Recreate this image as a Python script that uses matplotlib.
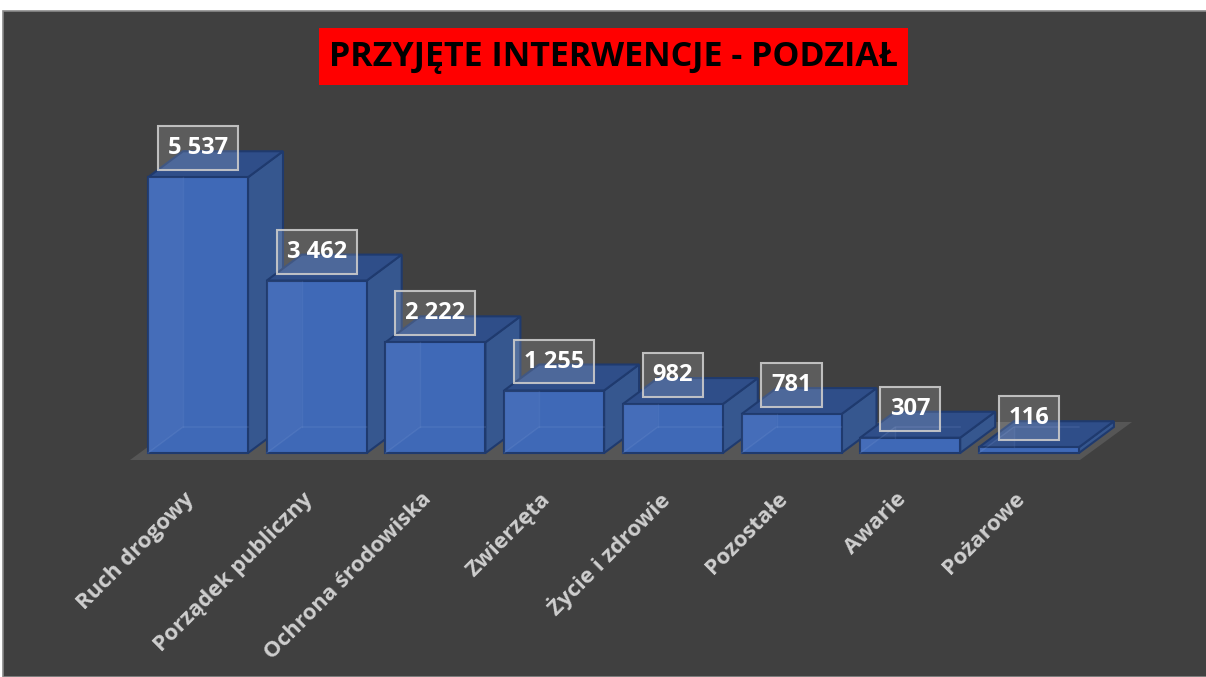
import matplotlib.pyplot as plt
from matplotlib.patches import Rectangle, Polygon

# data
categories = ['Ruch drogowy', 'Porządek publiczny', 'Ochrona środowiska', 'Zwierzęta',
              'Życie i zdrowie', 'Pozostałe', 'Awarie', 'Pożarowe']
values = [5537, 3462, 2222, 1255, 982, 781, 307, 116]
title = 'PRZYJĘTE INTERWENCJE - PODZIAŁ'

# layout (pixels of a 1206x677 canvas)
W, H = 1206, 677
X0_PX = 198          # centre of first bar
PX_PER_CAT = 118.7   # distance between bars
BASE_PX = 453        # baseline, from top
PX_PER_UNIT = 0.0498
BAR_W = 100 / PX_PER_CAT
DX = 35 / PX_PER_CAT          # depth offset of bars
DY = 26 / PX_PER_UNIT
FDX = 52 / PX_PER_CAT         # depth of the floor
FDY = 38 / PX_PER_UNIT

bg = '#404040'
front_c = '#3F69B7'
side_c = '#36578F'
top_c = '#2F4E89'
edge_c = '#1F3A6E'
font = ['Open Sans', 'DejaVu Sans']

fig = plt.figure(figsize=(W / 100, H / 100), dpi=100, facecolor='white')
fig.patches.append(Rectangle((3 / W, 0), 1, (H - 11) / H, transform=fig.transFigure,
                             facecolor=bg, edgecolor='#8a8a8a', lw=1.2, zorder=-1))

ax = fig.add_axes([0, 0, 1, 1])
ax.set_xlim(-X0_PX / PX_PER_CAT, (W - X0_PX) / PX_PER_CAT)
ax.set_ylim(-(H - BASE_PX) / PX_PER_UNIT, BASE_PX / PX_PER_UNIT)
ax.axis('off')
ax.patch.set_alpha(0)

# floor
fl_y = -7 / PX_PER_UNIT
fl_x0 = (130 - X0_PX) / PX_PER_CAT
fl_x1 = (1080 - X0_PX) / PX_PER_CAT
ax.add_patch(Polygon([(fl_x0, fl_y), (fl_x1, fl_y), (fl_x1 + FDX, fl_y + FDY),
                      (fl_x0 + FDX, fl_y + FDY)], closed=True,
                     facecolor='#565656', edgecolor='none', zorder=1))

for i, v in enumerate(values):
    x0, x1 = i - BAR_W / 2, i + BAR_W / 2
    z = 2 + i
    ax.add_patch(Polygon([(x1, 0), (x1 + DX, DY), (x1 + DX, v + DY), (x1, v)], closed=True,
                         facecolor=side_c, edgecolor=edge_c, lw=1.5, zorder=z))
    ax.add_patch(Polygon([(x0, v), (x0 + DX, v + DY), (x1 + DX, v + DY), (x1, v)], closed=True,
                         facecolor=top_c, edgecolor=edge_c, lw=1.5, zorder=z))
    ax.add_patch(Rectangle((x0, 0), BAR_W, v, facecolor=front_c, edgecolor=edge_c,
                           lw=1.5, zorder=z + 0.1))
    # faint see-through inner faces
    ax.add_patch(Polygon([(x0, 0), (x0 + DX, DY), (x0 + DX, v), (x0, v)], closed=True,
                         facecolor='white', alpha=0.03, edgecolor='none', zorder=z + 0.2))
    ax.plot([x0, x0 + DX, x1], [0, DY, DY], color='#7d9bd6', lw=1, alpha=0.2, zorder=z + 0.2)
    ax.plot([x0 + DX, x0 + DX], [DY, v], color='#7d9bd6', lw=1, alpha=0.15, zorder=z + 0.2)

    ax.text(i, v + 29 / PX_PER_UNIT, f'{v:,}'.replace(',', ' '), ha='center', va='center',
            fontsize=17, fontweight='bold', color='white', family=font, zorder=20,
            bbox=dict(boxstyle='square,pad=0.42', facecolor=(1, 1, 1, 0.15),
                      edgecolor=(0.8, 0.8, 0.8, 0.9), lw=1.5))

    ax.text(i - 7 / PX_PER_CAT, -43 / PX_PER_UNIT, categories[i], rotation=45,
            rotation_mode='anchor', ha='right', va='center', fontsize=16,
            fontweight='bold', color='#cfcfcf', family=font, zorder=20)

# title
fig.patches.append(Rectangle((319 / W, 1 - 85 / H), 589 / W, 57 / H, transform=fig.transFigure,
                             facecolor='#FF0000', edgecolor='none', zorder=3))
fig.text(613.5 / W, 1 - 57 / H, title, ha='center', va='center', fontsize=24.5,
         fontweight='bold', color='black', family=font, zorder=4)

fig.savefig('out.png', dpi=100, facecolor=fig.get_facecolor())
